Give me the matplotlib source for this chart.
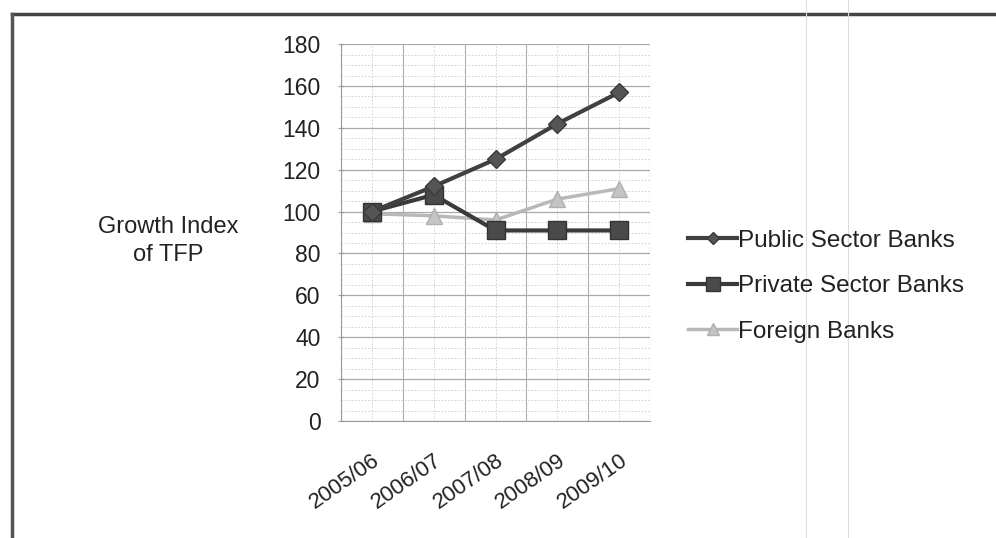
import matplotlib
matplotlib.use("Agg")
from matplotlib import pyplot as plt
from matplotlib.lines import Line2D
from matplotlib.ticker import MultipleLocator

plt.rcParams['font.family'] = ['Liberation Sans', 'DejaVu Sans']

years = ['2005/06', '2006/07', '2007/08', '2008/09', '2009/10']
public_banks = [100, 112, 125, 142, 157]
private_banks = [100, 108, 91, 91, 91]
foreign_banks = [99, 98, 96, 106, 111]

fig = plt.figure(figsize=(9.96, 5.38), dpi=100)
ax = fig.add_axes([0.342, 0.2175, 0.311, 0.7005])

x = list(range(len(years)))

# las series, la clara primero para que quede debajo
ax.plot(x, foreign_banks, color='#b8b8b8', lw=2.5, marker='^', ms=11,
        mfc='#c4c4c4', mec='#b0b0b0', label='Foreign Banks', zorder=3)
ax.plot(x, private_banks, color='#3a3a3a', lw=3, marker='s', ms=13,
        mfc='#4a4a4a', mec='#333333', label='Private Sector Banks', zorder=4)
ax.plot(x, public_banks, color='#404040', lw=3, marker='D', ms=9,
        mfc='#555555', mec='#3a3a3a', label='Public Sector Banks', zorder=5)

ax.set_xlim(-0.5, len(years) - 0.5)
ax.set_ylim(0, 180)
ax.yaxis.set_major_locator(MultipleLocator(20))
ax.yaxis.set_minor_locator(MultipleLocator(5))
ax.set_xticks(x)
ax.set_xticks([i - 0.5 for i in range(len(years) + 1)], minor=True)
ax.set_xticklabels(years, rotation=35, ha='right', rotation_mode='anchor',
                   fontsize=16, color='#222222')
ax.tick_params(axis='y', labelsize=16.5, labelcolor='#222222', length=5,
               direction='inout', color='#999999', pad=12)
ax.tick_params(axis='x', length=0, pad=21)
ax.tick_params(which='minor', length=0)

# cuadriculado
ax.grid(which='major', axis='y', color='#aaaaaa', lw=0.9)
ax.grid(which='minor', axis='y', color='#cccccc', lw=0.6, ls=(0, (2, 2)))
ax.grid(which='major', axis='x', color='#cccccc', lw=0.6, ls=(0, (2, 2)))
ax.grid(which='minor', axis='x', color='#b0b0b0', lw=0.8)
ax.set_axisbelow(True)
for side in ['top', 'right']:
    ax.spines[side].set_visible(False)
ax.spines['left'].set_color('#999999')
ax.spines['bottom'].set_color('#999999')

fig.text(0.169, 0.552, 'Growth Index\nof TFP', ha='center', va='center',
         fontsize=17, color='#222222', linespacing=1.35)

handles = [
    Line2D([], [], color='#404040', lw=3, marker='D', ms=6, mfc='#555555', mec='#3a3a3a'),
    Line2D([], [], color='#3a3a3a', lw=3, marker='s', ms=10, mfc='#4a4a4a', mec='#333333'),
    Line2D([], [], color='#b8b8b8', lw=2.5, marker='^', ms=8, mfc='#c4c4c4', mec='#b0b0b0'),
]
fig.legend(handles, ['Public Sector Banks', 'Private Sector Banks', 'Foreign Banks'],
           loc='center left', bbox_to_anchor=(0.669, 0.468), frameon=False,
           fontsize=17.5, handlelength=2.0, handletextpad=0.05, labelspacing=0.97,
           labelcolor='#222222')

# marco del grafico
fig.add_artist(Line2D([0.012, 1.0], [0.974, 0.974], color='#444444', lw=2.5))
fig.add_artist(Line2D([0.012, 0.012], [0.0, 0.974], color='#555555', lw=2.5))
# lineas tenues del escaneo
fig.add_artist(Line2D([0.809, 0.809], [0.0, 1.0], color='#dddddd', lw=0.8))
fig.add_artist(Line2D([0.851, 0.851], [0.0, 1.0], color='#dddddd', lw=0.8))

fig.savefig('out.png', dpi=100)
